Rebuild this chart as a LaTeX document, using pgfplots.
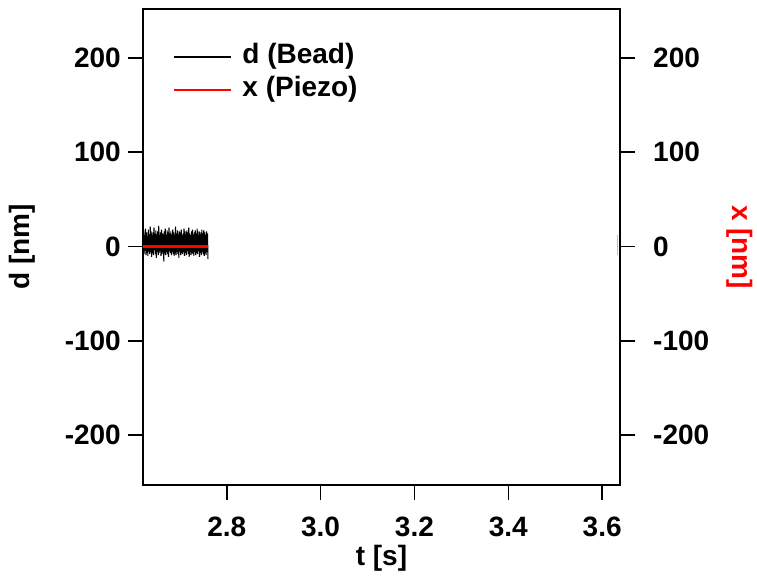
\documentclass[border=0pt]{standalone}
\usepackage{pgfplots}
\pgfplotsset{compat=1.18}
\usepackage{fontspec}
\setmainfont{Liberation Sans}
\newcommand{\bigf}{\fontsize{28}{34}\selectfont\bfseries}
\begin{document}
\begin{tikzpicture}
\pgfplotsset{
  common/.style={
    scale only axis, width=477pt, height=476pt,
    at={(0,0)}, anchor=south west,
    xmin=2.6216, xmax=3.638, ymin=-253, ymax=252,
    tick align=outside, major tick length=15pt,
    every tick/.style={black, line width=1.6pt},
    axis line style={line width=1.6pt},
    /pgf/number format/assume math mode=true,
    ticklabel style={font=\bigf},
    label style={font=\bigf},
    ytick={-200,-100,0,100,200},
  }
}
\begin{axis}[common,
  xtick={2.8,3.0,3.2,3.4,3.6},
  xticklabel style={/pgf/number format/fixed, /pgf/number format/fixed zerofill, /pgf/number format/precision=1, inner sep=0pt, yshift=-17pt, anchor=north},
  yticklabel style={inner sep=0pt, xshift=-7pt, anchor=east},
  xtick pos=bottom, ytick pos=left,
  xlabel={t [s]}, ylabel={d [nm]},
  xlabel style={at={(axis description cs:0.5,-0.153)}, anchor=center},
  ylabel style={at={(axis description cs:-0.2537,0.5)}, anchor=center},
  legend style={draw=none, fill=none, at={(axis description cs:0.063,0.928)}, anchor=north west, inner sep=0pt,
    font=\bigf, row sep=6pt,
    nodes={inner sep=0pt, text height=20pt, text depth=7pt},
    /tikz/every odd column/.style={column sep=10pt}},
  legend image code/.code={\draw[#1] (0pt,0pt) -- (57pt,0pt);},
  legend cell align=left,
]
\addplot[black, line width=1.1pt] table {
2.621 14
2.622 -6
2.623 17
2.624 -8
2.625 12
2.626 -4
2.627 19
2.628 -9
2.629 15
2.630 -7
2.631 11
2.632 -10
2.633 18
2.634 -5
2.635 13
2.636 -8
2.637 21
2.638 -6
2.639 16
2.640 -11
2.641 12
2.642 -7
2.643 15
2.644 -9
2.645 20
2.646 -4
2.647 14
2.648 -8
2.649 17
2.650 -12
2.651 13
2.652 -6
2.653 16
2.654 -9
2.655 22
2.656 -7
2.657 12
2.658 -5
2.659 15
2.660 -10
2.661 18
2.662 -8
2.663 14
2.664 -6
2.665 13
2.666 -16
2.667 16
2.668 -7
2.669 19
2.670 -9
2.671 12
2.672 -6
2.673 17
2.674 -8
2.675 15
2.676 -11
2.677 20
2.678 -5
2.679 14
2.680 -7
2.681 16
2.682 -9
2.683 13
2.684 -6
2.685 18
2.686 -8
2.687 15
2.688 -10
2.689 12
2.690 -7
2.691 21
2.692 -9
2.693 14
2.694 -6
2.695 17
2.696 -8
2.697 13
2.698 -12
2.699 16
2.700 -5
2.701 15
2.702 -9
2.703 18
2.704 -7
2.705 12
2.706 -8
2.707 14
2.708 -6
2.709 19
2.710 -10
2.711 16
2.712 -7
2.713 13
2.714 -9
2.715 17
2.716 -5
2.717 15
2.718 -8
2.719 20
2.720 -11
2.721 14
2.722 -6
2.723 12
2.724 -9
2.725 16
2.726 -7
2.727 18
2.728 -8
2.729 13
2.730 -10
2.731 15
2.732 -6
2.733 17
2.734 -9
2.735 14
2.736 -7
2.737 19
2.738 -8
2.739 12
2.740 -5
2.741 16
2.742 -11
2.743 15
2.744 -7
2.745 13
2.746 -9
2.747 18
2.748 -6
2.749 14
2.750 -8
2.751 17
2.752 -10
2.753 15
2.754 -7
2.755 12
2.756 -9
2.757 16
2.758 -6
2.759 14
2.760 -13
};
\addlegendentry{d (Bead)}
\addplot[red, line width=2.2pt] coordinates {(2.621,0) (2.760,0)};
\addlegendentry{x (Piezo)}
\addplot[gray!50, line width=1pt, forget plot] coordinates {(3.632,12) (3.632,-9)};
\end{axis}
\begin{axis}[common,
  hide x axis, axis y line*=right, ytick pos=right,
  yticklabel style={inner sep=0pt, xshift=18pt, anchor=west},
  ylabel={x [nm]},
  ylabel style={red, rotate=180, at={(axis description cs:1.2516,0.5)}, anchor=center},
]
\addplot[draw=none] coordinates {(3,0)};
\end{axis}
\pgfresetboundingbox
\path (-143pt,-97pt) rectangle (614pt,485pt);
\end{tikzpicture}
\end{document}
